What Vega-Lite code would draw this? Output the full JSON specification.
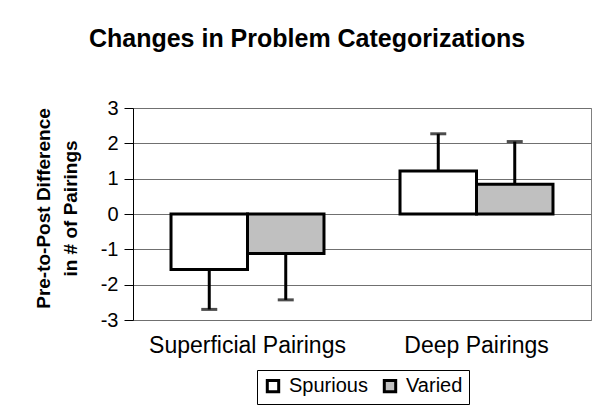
{
  "$schema": "https://vega.github.io/schema/vega-lite/v6.json",
  "autosize": "none",
  "padding": {"left": 133, "top": 108, "right": 12, "bottom": 94},
  "width": 458,
  "height": 212,
  "background": "white",
  "config": {
    "font": "Liberation Sans",
    "view": {"stroke": "#808080", "strokeWidth": 1},
    "axisY": {
      "values": [-3, -2, -1, 0, 1, 2, 3],
      "labelExpr": "'' + datum.value",
      "labelOverlap": false,
      "labelBound": false,
      "labelFontSize": 20,
      "labelColor": "black",
      "labelPadding": 6,
      "tickSize": 9,
      "tickColor": "black",
      "domainColor": "black",
      "grid": true,
      "gridColor": "#707070",
      "gridWidth": 1,
      "titleFontSize": 19,
      "titleFontWeight": "bold",
      "titleColor": "black",
      "titleLineHeight": 27,
      "titlePadding": 20,
      "titleY": 100
    }
  },
  "title": {
    "text": "Changes in Problem Categorizations",
    "fontSize": 25,
    "fontWeight": "bold",
    "color": "black",
    "anchor": "middle",
    "dx": -55,
    "offset": 46
  },
  "data": {
    "values": [
      {"pairing": "Superficial Pairings", "group": "Spurious", "value": -1.57, "err": -2.7},
      {"pairing": "Superficial Pairings", "group": "Varied", "value": -1.12, "err": -2.43},
      {"pairing": "Deep Pairings", "group": "Spurious", "value": 1.22, "err": 2.27},
      {"pairing": "Deep Pairings", "group": "Varied", "value": 0.84, "err": 2.05}
    ]
  },
  "encoding": {
    "x": {
      "field": "pairing",
      "type": "nominal",
      "sort": ["Superficial Pairings", "Deep Pairings"],
      "scale": {"paddingInner": 0.332, "paddingOuter": 0.166},
      "axis": {
        "title": null,
        "orient": "bottom",
        "domain": false,
        "ticks": false,
        "grid": false,
        "labelAngle": 0,
        "labelFontSize": 23,
        "labelColor": "black",
        "labelPadding": 14,
        "labelLimit": 0
      }
    },
    "xOffset": {
      "field": "group",
      "type": "nominal",
      "sort": ["Spurious", "Varied"],
      "scale": {"paddingInner": 0, "paddingOuter": 0}
    }
  },
  "layer": [
    {
      "mark": {"type": "bar", "stroke": "black", "strokeWidth": 3, "strokeJoin": "miter"},
      "encoding": {
        "y": {
          "field": "value",
          "type": "quantitative",
          "scale": {"domain": [-3, 3], "nice": false, "zero": false},
          "axis": {"title": ["Pre-to-Post Difference", "in # of Pairings"]}
        },
        "fill": {
          "field": "group",
          "type": "nominal",
          "sort": ["Spurious", "Varied"],
          "scale": {"domain": ["Spurious", "Varied"], "range": ["#ffffff", "#c0c0c0"]},
          "legend": {
            "title": null,
            "orient": "none",
            "direction": "horizontal",
            "legendX": 124,
            "legendY": 262,
            "padding": 6,
            "strokeColor": "black",
            "fillColor": "white",
            "symbolType": "square",
            "symbolSize": 130,
            "symbolStrokeColor": "black",
            "symbolStrokeWidth": 3,
            "labelFontSize": 20,
            "labelColor": "black",
            "labelOffset": 6,
            "columnPadding": 10
          }
        }
      }
    },
    {
      "mark": {"type": "rule", "color": "black", "strokeWidth": 3},
      "encoding": {
        "y": {"field": "value", "type": "quantitative", "axis": {"title": ["Pre-to-Post Difference", "in # of Pairings"]}},
        "y2": {"field": "err"}
      }
    },
    {
      "mark": {"type": "tick", "color": "black", "thickness": 3, "size": 16, "orient": "horizontal"},
      "encoding": {
        "y": {"field": "err", "type": "quantitative", "axis": {"title": ["Pre-to-Post Difference", "in # of Pairings"]}}
      }
    }
  ]
}
